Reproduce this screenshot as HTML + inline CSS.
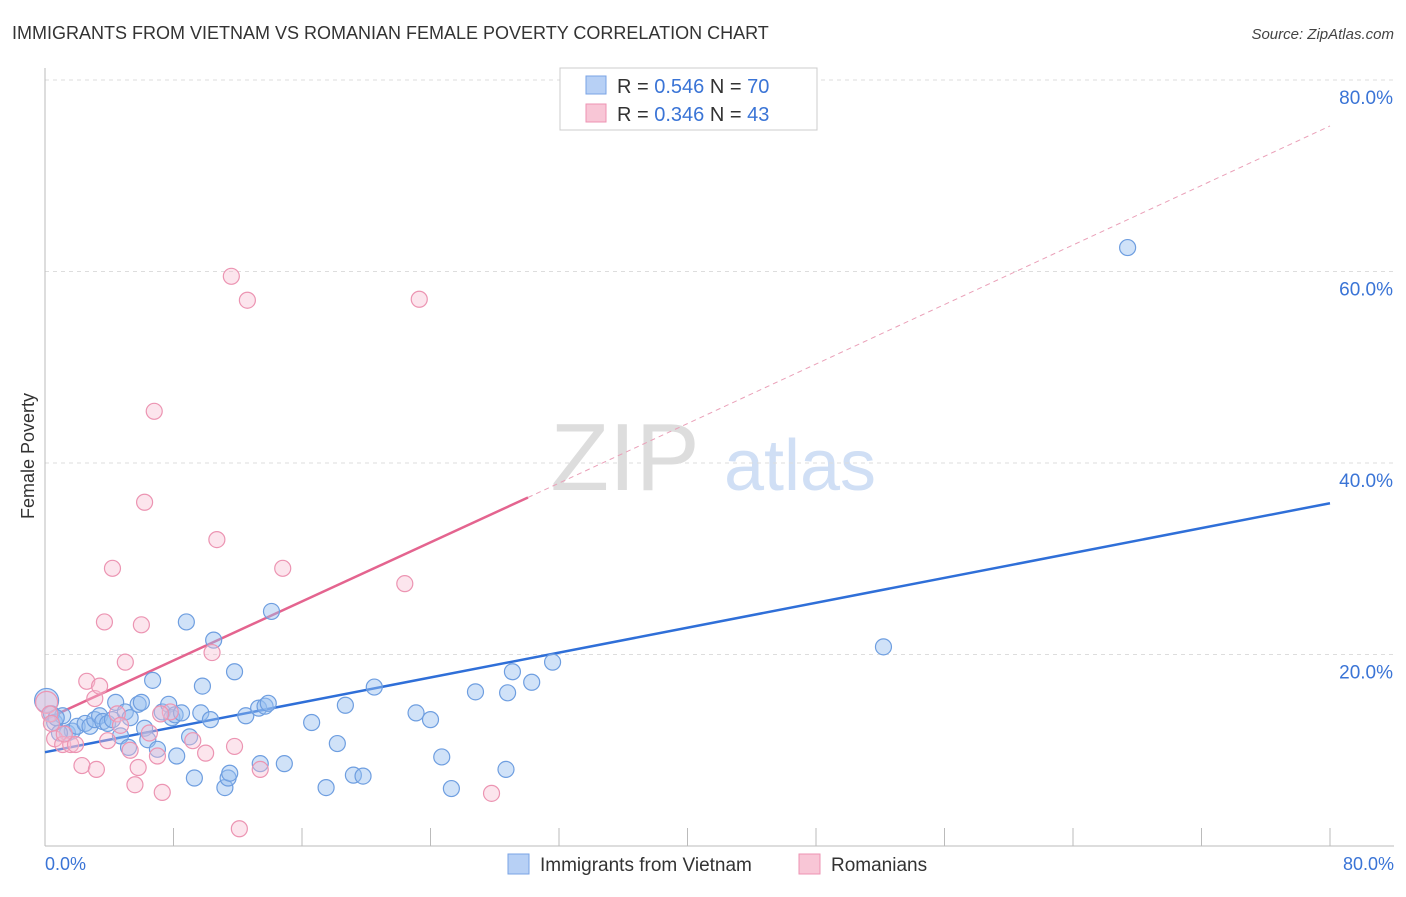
<!DOCTYPE html>
<html><head><meta charset="utf-8"><style>
body{margin:0;background:#fff;font-family:"Liberation Sans",sans-serif}
svg text{font-family:"Liberation Sans",sans-serif}
</style></head><body>
<svg id="chart" width="1406" height="892" xmlns="http://www.w3.org/2000/svg">
<text x="12" y="39" font-size="18" fill="#333">IMMIGRANTS FROM VIETNAM VS ROMANIAN FEMALE POVERTY CORRELATION CHART</text>
<text x="1394" y="39" font-size="15" fill="#444" text-anchor="end" font-style="italic">Source: ZipAtlas.com</text>
<g>
<text x="625" y="490" font-size="96" fill="#ddd" font-family="Liberation Serif" text-anchor="middle">ZIP</text>
<text x="800" y="490" font-size="72" fill="#d0dff5" text-anchor="middle">atlas</text>
</g>
<g id="grid"></g>
<g id="axes"></g>
<g id="lines"></g>
<g id="points"></g>
<text transform="translate(34,456) rotate(-90)" font-size="18" fill="#333" text-anchor="middle">Female Poverty</text>
<text x="45" y="870" font-size="18" fill="#3a74d6">0.0%</text>
<text x="1394" y="870" font-size="18" fill="#3a74d6" text-anchor="end">80.0%</text>
<g>
<rect x="560" y="68" width="257" height="62" fill="#fff" stroke="#ccc"/>
<rect x="586" y="76" width="20" height="18" fill="#b7d0f5" stroke="#7aa3e5"/>
<text x="617" y="93" font-size="20" fill="#333">R = <tspan fill="#3a74d6">0.546</tspan>   N = <tspan fill="#3a74d6">70</tspan></text>
<rect x="586" y="104" width="20" height="18" fill="#f8c6d6" stroke="#ee93b3"/>
<text x="617" y="121" font-size="20" fill="#333">R = <tspan fill="#3a74d6">0.346</tspan>   N = <tspan fill="#3a74d6">43</tspan></text>
</g>
<g>
<rect x="508" y="854" width="21" height="20" fill="#b7d0f5" stroke="#7aa3e5"/>
<text x="540" y="871" font-size="19" fill="#333">Immigrants from Vietnam</text>
<rect x="799" y="854" width="21" height="20" fill="#f8c6d6" stroke="#ee93b3"/>
<text x="831" y="871" font-size="19" fill="#333">Romanians</text>
</g>
</svg>
<script>
const yTicks=[20,40,60,80];
const yTickLabels=["20.0%","40.0%","60.0%","80.0%"];
const xTicks=[0,8,16,24,32,40,48,56,64,72,80];
const blueX=[0.1,0.4,0.6,1.1,1.4,1.7,2.0,2.5,2.8,3.1,3.4,3.6,3.9,4.2,4.4,4.7,5.0,5.3,5.2,5.8,6.0,6.2,6.4,6.7,7.0,7.3,7.7,7.9,8.1,8.2,8.5,8.8,9.0,9.3,9.7,9.8,10.3,10.5,11.2,11.4,11.5,11.8,12.5,13.3,13.4,13.7,13.9,14.1,14.9,16.6,17.5,18.2,18.7,19.2,19.8,20.5,23.1,24.0,24.7,25.3,26.8,28.7,28.8,29.1,30.3,31.6,52.2,67.4,0.9,0.7];
const blueY=[15.2,13.8,12.9,13.6,11.8,12.0,12.5,12.8,12.5,13.2,13.6,13.0,12.8,13.2,15.0,11.5,14.0,13.4,10.3,14.8,15.0,12.3,11.1,17.3,10.1,14.0,14.8,13.4,13.7,9.4,13.9,23.4,11.4,7.1,13.9,16.7,13.2,21.5,6.1,7.1,7.6,18.2,13.6,14.4,8.6,14.6,14.9,24.5,8.6,12.9,6.1,10.7,14.7,7.4,7.3,16.6,13.9,13.2,9.3,6.0,16.1,8.0,16.0,18.2,17.1,19.2,20.8,62.5,11.8,13.4];
const pinkX=[0.1,0.3,0.6,1.1,1.6,1.9,2.3,2.6,3.1,3.2,3.4,3.7,4.2,4.5,4.7,5.0,5.3,5.6,5.8,6.0,6.2,6.5,6.8,7.0,7.3,7.8,9.2,10.0,10.4,10.7,11.6,11.8,12.1,12.6,13.4,14.8,22.4,23.3,27.8,0.4,1.2,3.9,7.2];
const pinkY=[15.0,13.8,11.2,10.6,10.6,10.6,8.4,17.2,15.4,8.0,16.7,23.4,29.0,13.8,12.6,19.2,10.0,6.4,8.2,23.1,35.9,11.8,45.4,9.4,5.6,14.0,11.0,9.7,20.2,32.0,59.5,10.4,1.8,57.0,8.0,29.0,27.4,57.1,5.5,12.8,11.7,11.0,13.8];
const blueLine=[9.8,35.8];
const pinkLine=[13.2,36.4,75.2];
const pinkSolidEnd=30.07;
const NS="http://www.w3.org/2000/svg";
const X=v=>45+v*(1285/80);
const Y=v=>846-v*(766/80);
function mk(tag,attrs,parent){const e=document.createElementNS(NS,tag);for(const k in attrs)e.setAttribute(k,attrs[k]);document.getElementById(parent).appendChild(e);return e;}
yTicks.forEach((t,i)=>{
 const g=mk('line',{x1:45,x2:1394,y1:Y(t),y2:Y(t),stroke:'#ddd','stroke-dasharray':'4,4'},'grid');
 
 
 const tx=mk('text',{x:1393,y:Y(t)+24,'font-size':19,fill:'#3a74d6','text-anchor':'end'},'grid');
 tx.textContent=yTickLabels[i];
 
 
});
const xa=mk('line',{x1:45,x2:1394,y1:846,y2:846,stroke:'#bbb'},'axes');


const ya=mk('line',{x1:45,x2:45,y1:68,y2:846,stroke:'#bbb'},'axes');


xTicks.forEach(t=>{
 const l=mk('line',{x1:X(t),x2:X(t),y1:828,y2:846,stroke:'#bbb'},'axes');
 
 
});
const bl=mk('line',{x1:X(0),y1:Y(blueLine[0]),x2:X(80),y2:Y(blueLine[1]),stroke:'#2f6fd8','stroke-width':2.5},'lines');


const pl=mk('line',{x1:X(0),y1:Y(pinkLine[0]),x2:X(pinkSolidEnd),y2:Y(pinkLine[1]),stroke:'#e4648f','stroke-width':2.5},'lines');


const pd=mk('line',{x1:X(pinkSolidEnd),y1:Y(pinkLine[1]),x2:X(80),y2:Y(pinkLine[2]),stroke:'#eaa0b8','stroke-width':1,'stroke-dasharray':'5,4'},'lines');


blueX.forEach((x,i)=>{
 const c=mk('circle',{cx:X(x),cy:Y(blueY[i]),r:i==0?12:8,fill:'rgba(150,190,240,0.45)',stroke:'#6e9ee0','stroke-width':1.2},'points');
 
 
});
pinkX.forEach((x,i)=>{
 const c=mk('circle',{cx:X(x),cy:Y(pinkY[i]),r:i==0?11:8,fill:'rgba(248,190,210,0.4)',stroke:'#ec94b2','stroke-width':1.2},'points');
 
 
});
</script>
</body></html>
